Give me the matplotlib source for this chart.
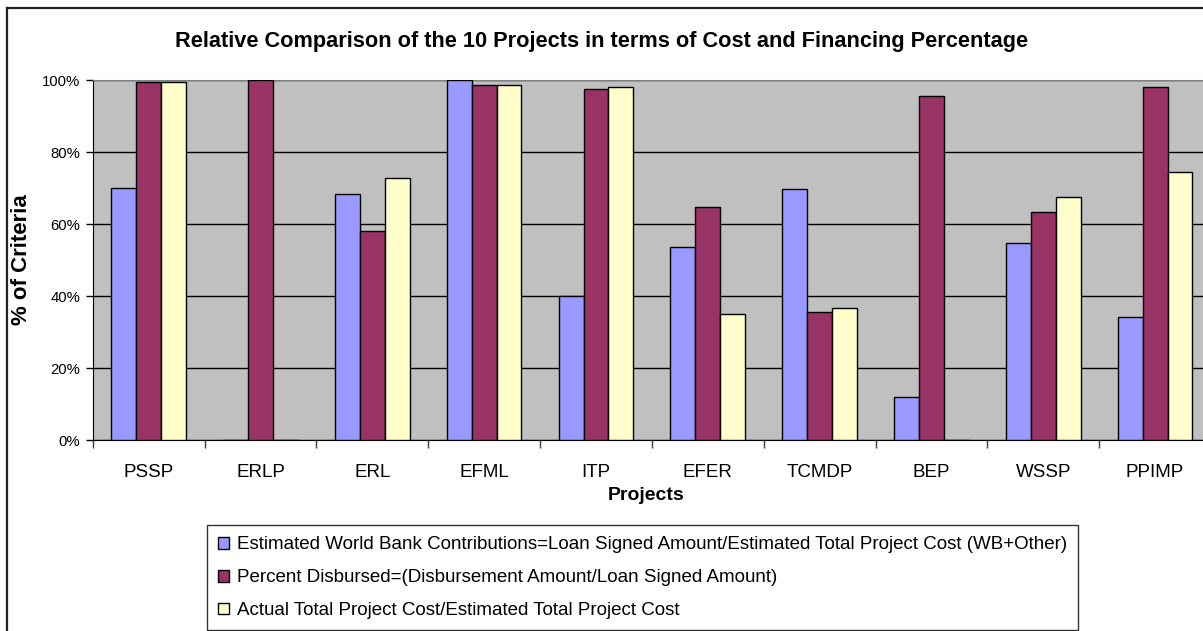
import matplotlib.pyplot as plt
import numpy as np
from matplotlib.lines import Line2D

plt.rcParams['font.family'] = ['Liberation Sans', 'DejaVu Sans']

projects = ['PSSP', 'ERLP', 'ERL', 'EFML', 'ITP', 'EFER', 'TCMDP', 'BEP', 'WSSP', 'PPIMP']

wb_contribution = [70.1, 0, 68.3, 100.0, 39.9, 53.6, 69.7, 11.9, 54.6, 34.2]
percent_disbursed = [99.4, 100.0, 58.1, 98.6, 97.6, 64.8, 35.5, 95.5, 63.4, 98.1]
actual_vs_estimated = [99.4, 0, 72.9, 98.6, 98.1, 35.0, 36.8, 0, 67.5, 74.5]

series_labels = [
    'Estimated World Bank Contributions=Loan Signed Amount/Estimated Total Project Cost (WB+Other)',
    'Percent Disbursed=(Disbursement Amount/Loan Signed Amount)',
    'Actual Total Project Cost/Estimated Total Project Cost',
]
colors = ['#9999FF', '#993366', '#FFFFCC']

W, H = 1203, 631
fig = plt.figure(figsize=(W / 100, H / 100), dpi=100)

# outer chart frame (cropped on right and bottom)
fig.add_artist(Line2D([7 / W, 7 / W], [0, 1 - 8 / H], color='#222222', lw=1.6))
fig.add_artist(Line2D([7 / W, 1], [1 - 8 / H, 1 - 8 / H], color='#222222', lw=1.6))

ax = fig.add_axes([92.7 / W, (H - 440) / H, (1211 - 92.7) / W, 360 / H])
ax.set_facecolor('#C0C0C0')

x = np.arange(len(projects))
bw = 1 / 4.5
handles = []
for i, (vals, lab, c) in enumerate(zip([wb_contribution, percent_disbursed, actual_vs_estimated],
                                       series_labels, colors)):
    b = ax.bar(x + (i - 1) * bw, vals, width=bw, color=c, edgecolor='black',
               linewidth=1.0, label=lab, zorder=3)
    handles.append(b)

ax.set_xlim(-0.5, len(projects) - 0.5)
ax.set_ylim(0, 100)
ax.set_yticks([0, 20, 40, 60, 80, 100])
ax.set_yticklabels(['0%', '20%', '40%', '60%', '80%', '100%'], fontsize=10.7)
ax.yaxis.grid(True, color='black', linewidth=1.0, zorder=1)
ax.set_axisbelow(True)

ax.set_xticks(np.arange(-0.5, len(projects), 1.0))
ax.set_xticklabels([])
ax.set_xticks(x, minor=True)
ax.set_xticklabels(projects, minor=True, fontsize=13.5)
ax.tick_params(axis='x', which='minor', length=0, pad=17)
ax.tick_params(axis='x', which='major', direction='out', length=6, width=1, color='#404040')
ax.tick_params(axis='y', direction='out', length=5, width=1, pad=4)

for s in ['top', 'right']:
    ax.spines[s].set_color('#808080')
ax.spines['left'].set_color('black')
ax.spines['bottom'].set_color('black')

fig.text(602 / W, 1 - 42 / H, 'Relative Comparison of the 10 Projects in terms of Cost and Financing Percentage',
         ha='center', va='center', fontsize=15.7, fontweight='bold')
fig.text(22 / W, 1 - 260 / H, '% of Criteria', rotation=90, ha='center', va='center',
         fontsize=16, fontweight='bold')
fig.text(646 / W, 1 - 495 / H, 'Projects', ha='center', va='center', fontsize=14, fontweight='bold')

leg = fig.legend(handles=handles, loc='upper left',
                 bbox_to_anchor=(206.7 / W, 1 - 525 / H),
                 fontsize=13.5, frameon=True, fancybox=False, shadow=False,
                 handlelength=0.6, handleheight=0.6, handletextpad=0.4,
                 labelspacing=0.85, borderaxespad=0, borderpad=0.6)
leg.get_frame().set_edgecolor('black')
leg.get_frame().set_linewidth(1.0)

fig.savefig('out.png', dpi=100)
